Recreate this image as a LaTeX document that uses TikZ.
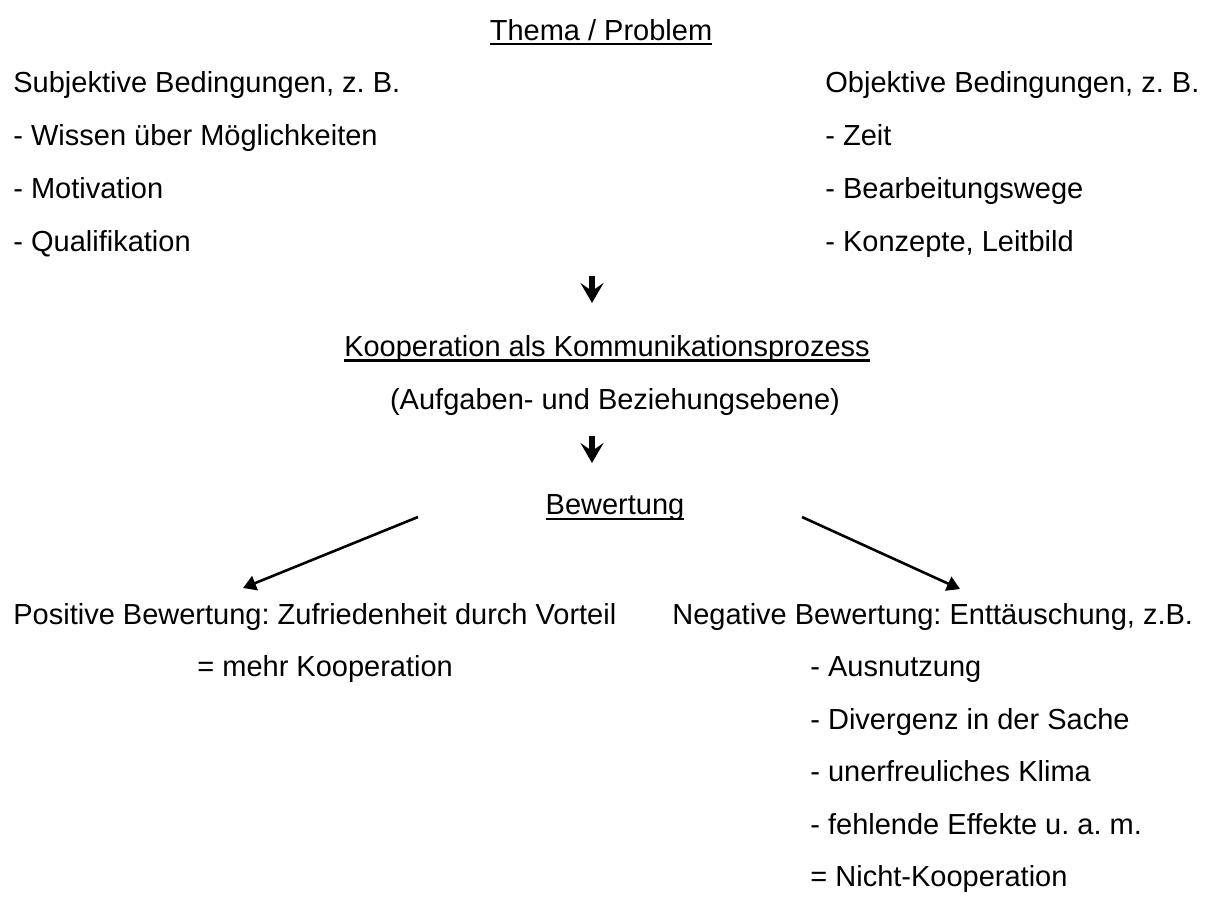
\documentclass[tikz,border=0pt]{standalone}
\usepackage{fontspec}
\setmainfont{Liberation Sans}
\usetikzlibrary{arrows.meta}
\frenchspacing
\newcommand\unterstr[1]{\setbox0\hbox{#1}\rlap{\rule[-2.5pt]{\wd0}{1.1pt}}\box0}
\begin{document}
\begin{tikzpicture}[x=0.5pt, y=-0.5pt, font=\fontsize{14.5pt}{17pt}\selectfont, line join=round,
	txt/.style={inner sep=0pt, anchor=base west},
	mitte/.style={inner sep=0pt, anchor=base},
	pfeil/.style={line width=1.3pt, -{Triangle[length=6.5pt,width=7.5pt]}},
	dickpfeil/.style={line width=2.8pt, -{Stealth[length=10pt,width=11.5pt,inset=4pt]}}]
	%Rahmen.
	\useasboundingbox (0,0) rectangle (1208,896);
	%Kopfzeile.
	\node[mitte] (thema) at (601,40) {\unterstr{Thema / Problem}};
	%Subjektive Bedingungen.
	\node[txt] (subj) at (13,92.75) {Subjektive Bedingungen, z. B.};
	\node[txt] (wissen) at (13,145.5) {- Wissen über Möglichkeiten};
	\node[txt] (motiv) at (13,198.25) {- Motivation};
	\node[txt] (quali) at (13,251) {- Qualifikation};
	%Objektive Bedingungen.
	\node[txt] (obj) at (825,92.75) {Objektive Bedingungen, z. B.};
	\node[txt] (zeit) at (825,145.5) {- Zeit};
	\node[txt] (wege) at (825,198.25) {- Bearbeitungswege};
	\node[txt] (konz) at (825,251) {- Konzepte, Leitbild};
	%Erster Pfeil.
	\coordinate (p1o) at (592,276);
	\coordinate (p1u) at (592,303);
	\draw[dickpfeil] (p1o) -- (p1u);
	%Kooperation.
	\node[mitte] (koop) at (607,356.5) {\unterstr{Kooperation als Kommunikationsprozess}};
	\node[mitte] (ebene) at (615,409.25) {(Aufgaben- und Beziehungsebene)};
	%Zweiter Pfeil.
	\coordinate (p2o) at (592,436);
	\coordinate (p2u) at (592,463);
	\draw[dickpfeil] (p2o) -- (p2u);
	%Bewertung.
	\node[mitte] (bew) at (615,514.75) {\unterstr{Bewertung}};
	\coordinate (bewL) at (418,517);
	\coordinate (bewR) at (802,517);
	\coordinate (posT) at (243,588);
	\coordinate (negT) at (960,589);
	\draw[pfeil] (bewL) -- (posT);
	\draw[pfeil] (bewR) -- (negT);
	%Positive Bewertung.
	\node[txt] (pos) at (13,624) {Positive Bewertung: Zufriedenheit durch Vorteil};
	\node[txt] (mehr) at (197,676.5) {= mehr Kooperation};
	%Negative Bewertung.
	\node[txt] (neg) at (672,624) {Negative Bewertung: Enttäuschung, z.B.};
	\node[txt] (ausn) at (810,676.5) {- Ausnutzung};
	\node[txt] (div) at (810,729) {- Divergenz in der Sache};
	\node[txt] (klima) at (810,781.5) {- unerfreuliches Klima};
	\node[txt] (eff) at (810,834) {- fehlende Effekte u. a. m.};
	\node[txt] (nicht) at (810,886.5) {= Nicht-Kooperation};
\end{tikzpicture}
\end{document}
